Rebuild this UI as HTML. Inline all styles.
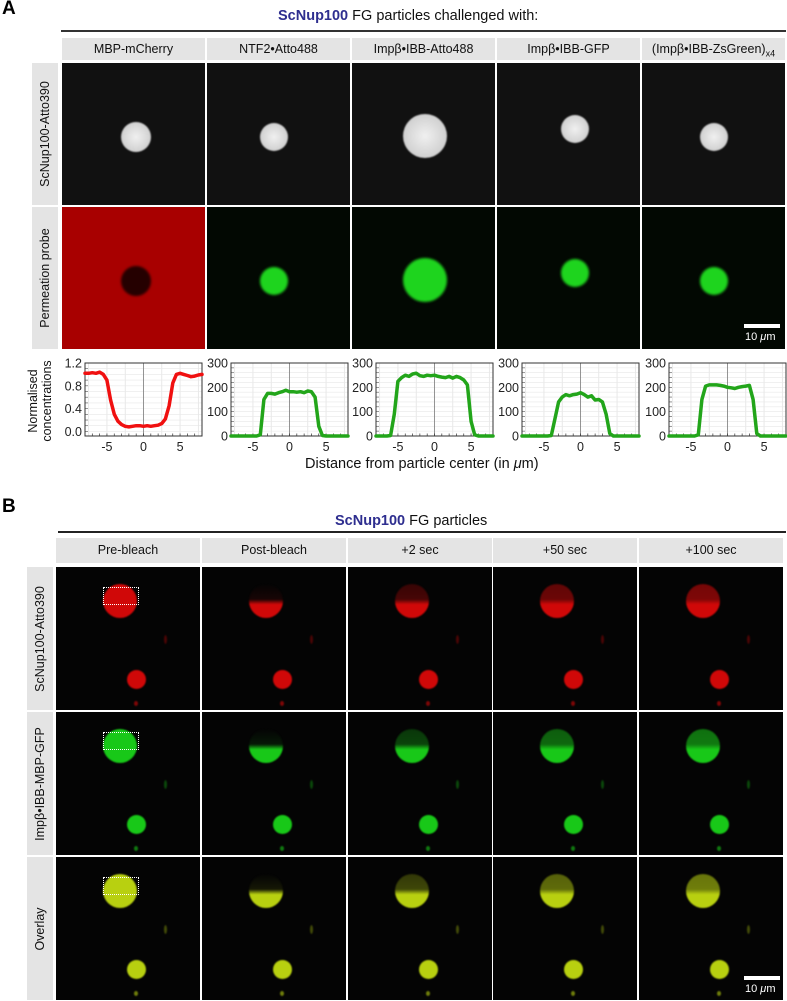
<!DOCTYPE html>
<html><head><meta charset="utf-8">
<style>
body{margin:0;background:#fff;width:787px;height:1001px;position:relative;overflow:hidden;font-family:"Liberation Sans",sans-serif;}
.abs{position:absolute;}
.hdr{position:absolute;background:#e4e4e4;font-size:12.5px;color:#111;text-align:center;}
.rl{position:absolute;background:#e4e4e4;}
.rl span{position:absolute;left:50%;top:50%;transform:translate(-50%,-50%) rotate(-90deg);white-space:nowrap;font-size:12.5px;color:#111;}
.img{position:absolute;background:#050505;overflow:hidden;}
.p{position:absolute;border-radius:50%;filter:blur(0.8px);}
.title{position:absolute;font-size:14.5px;color:#111;}
.title b{color:#2e2e8f;}
</style></head><body>
<div class="abs" style="left:2px;top:-2px;font-size:19px;font-weight:bold;">A</div>
<div class="title" style="left:278px;top:8px;"><b>ScNup100</b> FG particles challenged with:</div>
<div class="abs" style="left:61px;top:30px;width:725px;height:1.5px;background:#333;"></div>

<div class="abs" style="left:2px;top:496px;font-size:19px;font-weight:bold;">B</div>
<div class="title" style="left:335px;top:513px;"><b>ScNup100</b> FG particles</div>
<div class="abs" style="left:58px;top:531px;width:728px;height:1.5px;background:#222;"></div>

<div class="abs" style="left:305px;top:456px;font-size:14.5px;color:#111;">Distance from particle center (in <i>μ</i>m)</div>
<div class="rl" style="left:22px;top:358px;width:36px;height:85px;background:none;"><span style="font-size:12.5px;line-height:14px;text-align:center;">Normalised<br>concentrations</span></div>

<svg id="charts" class="abs" style="left:0;top:350px" width="787" height="110"></svg>

<script>
// ---- chart data ----
const xs=[-8,-7.5,-7,-6.5,-6,-5.5,-5,-4.5,-4,-3.5,-3,-2.5,-2,-1.5,-1,-0.5,0,0.5,1,1.5,2,2.5,3,3.5,4,4.5,5,5.5,6,6.5,7,7.5,8];
const mbpMcherry=[1.02,1.02,1.03,1.02,1.04,1.0,0.9,0.55,0.3,0.18,0.12,0.09,0.08,0.09,0.1,0.1,0.09,0.1,0.09,0.1,0.11,0.14,0.22,0.45,0.85,1.0,1.02,1.0,0.98,0.96,0.97,0.99,1.0];
const ntf2=[0,0,0,0,0,0,0,0,5,150,175,175,172,178,182,188,182,182,180,182,178,185,182,160,40,2,0,0,0,0,0,0,0];
const impIbbAtto=[0,0,0,0,2,90,225,240,250,245,255,258,248,245,250,248,250,245,242,240,245,238,245,240,230,210,60,5,0,0,0,0,0];
const impIbbGfp=[0,0,0,0,0,0,0,0,2,70,140,160,170,165,170,172,178,170,160,165,148,150,140,90,10,0,0,0,0,0,0,0,0];
const impIbbZs=[0,0,0,0,0,0,0,0,5,150,205,210,210,210,208,205,200,198,195,200,203,205,208,150,10,0,0,0,0,0,0,0,0];
const series=[mbpMcherry,ntf2,impIbbAtto,impIbbGfp,impIbbZs];
const seriesNames=['mbp-mcherry','ntf2-atto488','impb-ibb-atto488','impb-ibb-gfp','impb-ibb-zsgreen'];
const xTicks=[-5,0,5];
const yTicksNorm=[0,0.4,0.8,1.2];
const yTickLabelsNorm=['0.0','0.4','0.8','1.2'];
const yTicksCnt=[0,100,200,300];
const yTickLabelsCnt=['0','100','200','300'];
</script>
<script>
const NS='http://www.w3.org/2000/svg';
const svg=document.getElementById('charts');
const plotLefts=[85,231,376,522,669];
const PW=117, PT=13, PB=86;
function mk(t,a,parent){const e=document.createElementNS(NS,t);for(const k in a)e.setAttribute(k,a[k]);(parent||svg).appendChild(e);return e;}
series.forEach((data,ci)=>{
  const L=plotLefts[ci];
  const norm=ci===0;
  const ymin=norm?-0.08:0, ymax=norm?1.2:300;
  const sx=v=>L+(v+8)/16*PW;
  const sy=v=>PB-(v-ymin)/(ymax-ymin)*(PB-PT);
  const g=mk('g',{});
  
  
  mk('rect',{x:L,y:PT,width:PW,height:PB-PT,fill:'#fff'},g);
  // grid
  [-7.5,-5,-2.5,2.5,5,7.5].forEach(v=>mk('line',{x1:sx(v),x2:sx(v),y1:PT,y2:PB,stroke:'#e2e2e2','stroke-width':0.8},g));
  const yt=norm?yTicksNorm:yTicksCnt, yl=norm?yTickLabelsNorm:yTickLabelsCnt;
  const minor=norm?0.1:20;
  for(let v=ymin<0?0:0; v<=ymax+1e-6; v+=minor){mk('line',{x1:L,x2:L+PW,y1:sy(v),y2:sy(v),stroke:'#e8e8e8','stroke-width':0.6},g);mk('line',{x1:L,x2:L+3,y1:sy(v),y2:sy(v),stroke:'#555','stroke-width':0.6},g);}
  mk('line',{x1:sx(0),x2:sx(0),y1:PT,y2:PB,stroke:'#888','stroke-width':0.9},g);
  mk('rect',{x:L,y:PT,width:PW,height:PB-PT,fill:'none',stroke:'#333','stroke-width':1},g);
  yt.forEach((v,i)=>{const t=mk('text',{x:L-3,y:sy(v)+4.5,'text-anchor':'end','font-size':12.5,fill:'#222','font-family':'Liberation Sans'},g);t.textContent=yl[i];
    
    });
  for(let v=-7;v<=7;v++)mk('line',{x1:sx(v),x2:sx(v),y1:PB,y2:PB-2.5,stroke:'#333','stroke-width':0.7},g);
  xTicks.forEach(v=>{const t=mk('text',{x:sx(v),y:PB+15,'text-anchor':'middle','font-size':12.5,fill:'#222','font-family':'Liberation Sans'},g);t.textContent=String(v);
    
    });
  const pts=xs.map((x,i)=>sx(x).toFixed(1)+','+sy(data[i]).toFixed(1)).join(' ');
  const pl=mk('polyline',{points:pts,fill:'none',stroke:norm?'#f01010':'#22a51a','stroke-width':3.5,'stroke-linejoin':'round','stroke-linecap':'round'},g);
  
  
});

// ---- panel A images ----
const aCols=[62,207,352,497,642], aW=143;
const aHeads=['MBP-mCherry','NTF2•Atto488','Impβ•IBB-Atto488','Impβ•IBB-GFP','(Impβ•IBB-ZsGreen)<sub style="font-size:9px">x4</sub>'];
const aPart=[[74,74,15],[67,74,14],[73,73,22],[78,66,14],[72,74,14]];
function div(cls,style,html,parent){const d=document.createElement('div');d.className=cls;d.style.cssText=style;if(html)d.innerHTML=html;(parent||document.body).appendChild(d);return d;}
aCols.forEach((x,i)=>{
  const h=div('hdr',`left:${x}px;top:38px;width:${aW}px;height:22px;line-height:22px;`,aHeads[i]);
  
  
  const [px,py,r]=aPart[i];
  const im1=div('img',`left:${x}px;top:63px;width:${aW}px;height:142px;background:#111;`);
  
  
  div('p',`left:${px-r}px;top:${py-r}px;width:${2*r}px;height:${2*r}px;background:radial-gradient(circle,#f0f0f0,#d0d0d0 70%,#bbb);`,'',im1);
  const im2=div('img',`left:${x}px;top:207px;width:${aW}px;height:142px;background:${i===0?'#a80000':'#020802'};`);
  
  
  div('p',`left:${px-r}px;top:${py-r}px;width:${2*r}px;height:${2*r}px;background:${i===0?'#250000':'#1ed41e'};filter:blur(1.2px);`,'',im2);
});
const rl1=div('rl','left:32px;top:63px;width:26px;height:142px;','<span>ScNup100-Atto390</span>');


const rl2=div('rl','left:32px;top:207px;width:26px;height:142px;','<span>Permeation probe</span>');


const sb1=div('abs','left:744px;top:324px;width:36px;height:4px;background:#fff;');


const sbt1=div('abs','left:745px;top:331px;font-size:11px;color:#fff;','10 <i>μ</i>m');



// ---- panel B images ----
const bCols=[56,202,348,493,639], bW=146;
const bHeads=['Pre-bleach','Post-bleach','+2 sec','+50 sec','+100 sec'];
const bRows=[567,712,857], bH=143;
const bRowLabels=['ScNup100-Atto390','Impβ•IBB-MBP-GFP','Overlay'];
const bColors=['#d00808','#18c818','#b8d010'];
const topFill=[1,0,0.25,0.45,0.55];
bCols.forEach((x,i)=>{
  const h=div('hdr',`left:${x}px;top:538px;width:${bW-2}px;height:25px;line-height:25px;`,bHeads[i]);
  
  
  bRows.forEach((y,ri)=>{
    const im=div('img',`left:${x}px;top:${y}px;width:${bW-2}px;height:${bH}px;background:#040404;`);
    
    
    const c=bColors[ri];
    const tf=topFill[i];
    const bg=i===0?c:`linear-gradient(to bottom, rgba(0,0,0,0) 0%, ${c} 55%, ${c} 100%), ${c}`;
    const top=div('p',`left:47px;top:17px;width:34px;height:34px;background:${c};opacity:1;`,'',im);
    if(i>0){top.style.background=`linear-gradient(to bottom, rgba(4,4,4,${1-tf}) 0%, rgba(4,4,4,${(1-tf)*0.9}) 45%, rgba(4,4,4,0) 60%), ${c}`;}
    div('p',`left:71px;top:103px;width:19px;height:19px;background:${c};`,'',im);
    div('p',`left:78px;top:134px;width:4px;height:5px;background:${c};opacity:.6;`,'',im);
    div('p',`left:108px;top:68px;width:3px;height:9px;background:${c};opacity:.35;`,'',im);
    if(i===0){
      const bx=div('abs','left:47px;top:20px;width:36px;height:18px;border:1.5px dotted #fff;box-sizing:border-box;','',im);
      
      
    }
  });
});
bRows.forEach((y,ri)=>{
  const r=div('rl',`left:27px;top:${y}px;width:26px;height:${bH}px;`,'<span>'+bRowLabels[ri]+'</span>');
  
  
});
const sb2=div('abs','left:744px;top:976px;width:36px;height:4px;background:#fff;');


const sbt2=div('abs','left:745px;top:983px;font-size:11px;color:#fff;','10 <i>μ</i>m');


</script>
</body></html>
